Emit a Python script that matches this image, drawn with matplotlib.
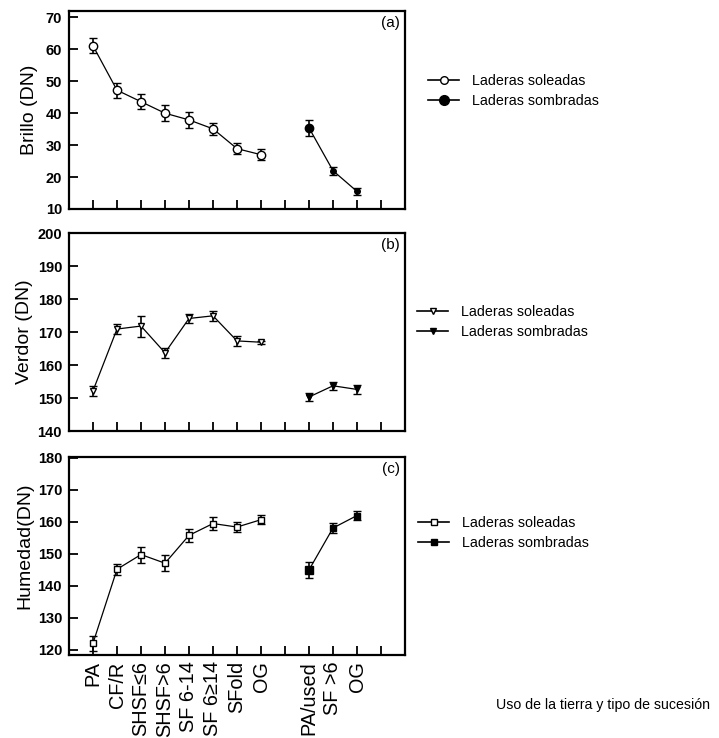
import numpy as np
import matplotlib
matplotlib.use("Agg")
import matplotlib.pyplot as plt
from matplotlib.lines import Line2D

plt.rcParams['font.family'] = ['Liberation Sans', 'DejaVu Sans']

# ---------------- data ----------------
cats_sun = ["PA", "CF/R", "SHSF≤6", "SHSF>6", "SF 6-14", "SF 6≥14", "SFold", "OG"]
cats_shade = ["PA/used", "SF >6", "OG"]

brillo_sun = [61.1, 47.2, 43.6, 40.0, 37.9, 35.1, 28.9, 27.0]
brillo_sun_err = [2.4, 2.4, 2.4, 2.5, 2.4, 1.8, 1.8, 1.8]
brillo_shade = [35.4, 22.0, 15.5]
brillo_shade_err = [2.5, 1.2, 1.2]

verdor_sun = [152.2, 170.9, 171.8, 163.7, 174.1, 174.9, 167.3, 166.9]
verdor_sun_err = [1.5, 1.4, 3.2, 1.6, 1.5, 1.5, 1.5, 0.5]
verdor_shade = [150.3, 153.7, 152.6]
verdor_shade_err = [1.3, 1.3, 1.3]

humedad_sun = [122.0, 145.1, 149.7, 147.0, 155.7, 159.4, 158.3, 160.6]
humedad_sun_err = [2.3, 1.8, 2.5, 2.5, 2.0, 2.0, 1.5, 1.5]
humedad_shade = [144.9, 158.0, 161.9]
humedad_shade_err = [2.5, 1.5, 1.5]

legend_labels = ["Laderas soleadas", "Laderas sombradas"]
ylabels = ["Brillo (DN)", "Verdor (DN)", "Humedad(DN)"]
panel_tags = ["(a)", "(b)", "(c)"]
xlabel = "Uso de la tierra y tipo de sucesión"

# ---------------- layout ----------------
W, H = 719, 738
fig = plt.figure(figsize=(W / 100, H / 100), dpi=100)

x_sun = np.arange(1, len(cats_sun) + 1)
x_shade = np.arange(len(cats_sun) + 2, len(cats_sun) + 2 + len(cats_shade))
all_ticks = np.arange(1, len(cats_sun) + len(cats_shade) + 3)
tick_labels = cats_sun + [""] + cats_shade + [""]

def frac_axes(top_px, bottom_px, left_px=69, right_px=405):
    return [left_px / W, 1 - bottom_px / H, (right_px - left_px) / W, (bottom_px - top_px) / H]

panels = [
    dict(rect=frac_axes(11, 209), sun=brillo_sun, sun_err=brillo_sun_err,
         shade=brillo_shade, shade_err=brillo_shade_err, ylim=(10, 72),
         yticks=np.arange(10, 71, 10), marker='o', ms=6.0, ms_shade=4.0, ms_first=6.0,
         leg_ms=(5.5, 7.0), leg=(428, 74), ylab_x=38, ylab_y=0.5),
    dict(rect=frac_axes(233, 431), sun=verdor_sun, sun_err=verdor_sun_err,
         shade=verdor_shade, shade_err=verdor_shade_err, ylim=(140, 200),
         yticks=np.arange(140, 201, 10), marker='v', ms=5.0, ms_shade=5.0, ms_first=5.0,
         leg_ms=(4.0, 4.5), leg=(417, 305), ylab_x=33, ylab_y=0.5),
    dict(rect=frac_axes(457, 655), sun=humedad_sun, sun_err=humedad_sun_err,
         shade=humedad_shade, shade_err=humedad_shade_err, ylim=(118.3, 180.2),
         yticks=np.arange(120, 181, 10), marker='s', ms=4.5, ms_shade=4.0, ms_first=6.0,
         leg_ms=(3.8, 4.5), leg=(418, 516), ylab_x=33, ylab_y=0.55),
]

for i, p in enumerate(panels):
    ax = fig.add_axes(p['rect'])
    ekw = dict(ecolor='black', elinewidth=1.2, capsize=3, capthick=1.2)
    ax.errorbar(x_sun, p['sun'], yerr=p['sun_err'], color='black', lw=0.9,
                marker=p['marker'], ms=p['ms'], mfc='white', mec='black', mew=1.0, **ekw)
    ax.errorbar(x_shade, p['shade'], yerr=p['shade_err'], color='black', lw=0.9,
                marker=p['marker'], ms=p['ms_shade'], mfc='black', mec='black', mew=1.0, **ekw)
    ax.plot(x_shade[:1], p['shade'][:1], linestyle='none', marker=p['marker'],
            ms=p['ms_first'], mfc='black', mec='black')

    ax.set_xlim(0, 14)
    ax.set_ylim(*p['ylim'])
    ax.set_yticks(p['yticks'])
    ax.set_xticks(all_ticks)
    if i == 2:
        ax.set_xticklabels(tick_labels, rotation=90, fontsize=14.3)
    else:
        ax.set_xticklabels([])
    for lab in ax.get_yticklabels():
        lab.set_fontweight('bold')
    ax.tick_params(axis='both', direction='in', length=6.5, width=1.3, pad=5)
    ax.tick_params(axis='y', labelsize=10.5)
    ax.tick_params(axis='x', pad=4.5)
    for s in ax.spines.values():
        s.set_linewidth(1.6)

    ax.set_ylabel(ylabels[i], fontsize=14)
    ax.yaxis.set_label_coords((p['ylab_x'] - 69) / 336, p['ylab_y'])
    ax.text(0.985, 0.975, panel_tags[i], transform=ax.transAxes, ha='right', va='top',
            fontsize=11)

    handles = [
        Line2D([], [], color='black', lw=1.2, marker=p['marker'], ms=p['leg_ms'][0],
               mfc='white', mec='black', mew=1.0),
        Line2D([], [], color='black', lw=1.2, marker=p['marker'], ms=p['leg_ms'][1],
               mfc='black', mec='black'),
    ]
    lx, ly = p['leg']
    fig.legend(handles, legend_labels, loc='upper left',
               bbox_to_anchor=(lx / W, 1 - ly / H), frameon=False, fontsize=10.3,
               handlelength=2.2, handletextpad=0.9, labelspacing=0.45,
               borderpad=0, borderaxespad=0)

fig.text(496 / W, 1 - 705 / H, xlabel, ha='left', va='center', fontsize=10.2)

fig.savefig("out.png", dpi=100)
